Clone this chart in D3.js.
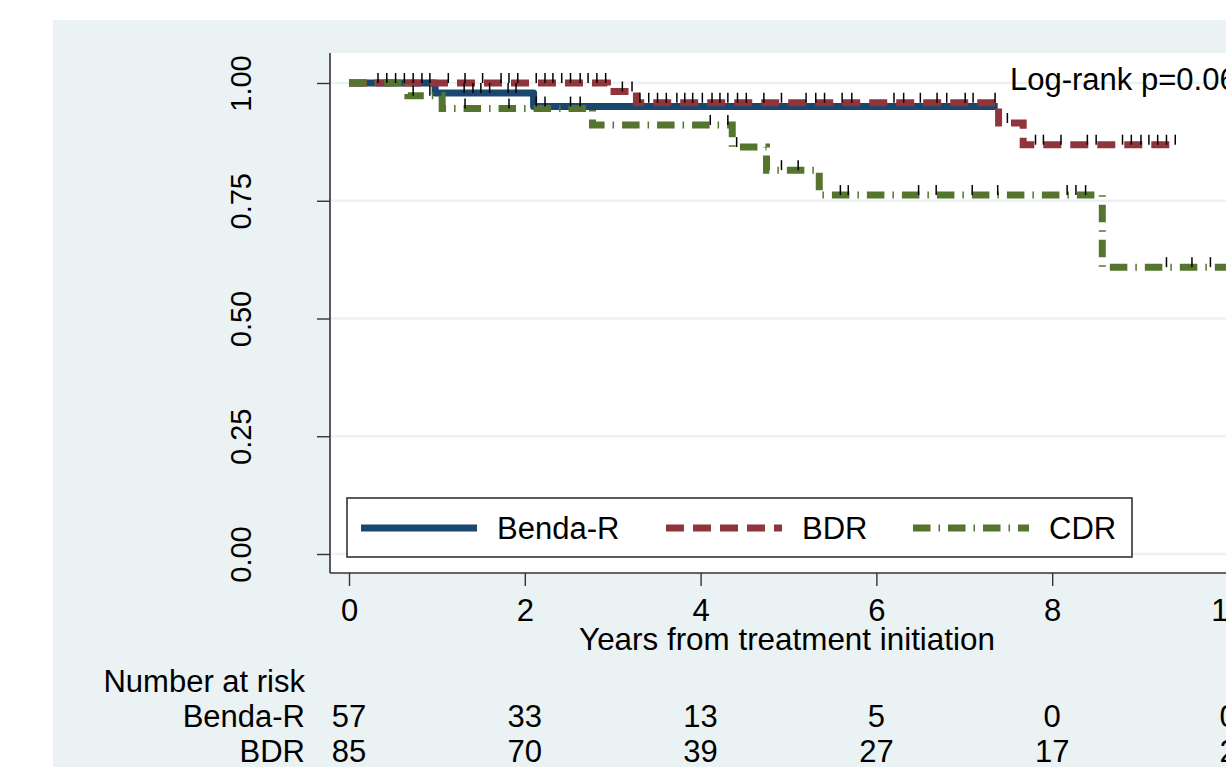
<!DOCTYPE html>
<html><head><meta charset="utf-8">
<script src="https://cdn.jsdelivr.net/npm/d3@7"></script>
<style>body{margin:0;background:#fff}svg{display:block}text{font-family:"Liberation Sans",Arial,sans-serif;fill:#000}</style>
</head><body>
<svg id="c" width="1226" height="767"></svg>
<script>
// ---- data ----
const groups = ["Benda-R", "BDR", "CDR"];
const xTicks = [0, 2, 4, 6, 8, 10];
const yTicks = [0, 0.25, 0.5, 0.75, 1];
const yTickLabels = ["0.00", "0.25", "0.50", "0.75", "1.00"];
// event steps: [time, survival after step]
const bendaSteps = [[0, 1], [0.98, 0.979], [2.10, 0.950]];
const bendaEnd = 7.38;
const bendaCens = [1.31, 1.41, 1.50, 1.60, 1.81, 1.90, 2.13, 2.23, 2.52, 2.63];
const bdrSteps = [[0, 1], [2.94, 0.982], [3.27, 0.958], [7.39, 0.915], [7.67, 0.869]];
const bdrEnd = 9.41;
const bdrCens = [0.33, 0.43, 0.53, 0.63, 0.73, 0.83, 0.92, 1.13, 1.32, 1.52, 1.73, 1.82, 1.92, 2.13, 2.23, 2.32, 2.42, 2.52, 2.63, 2.72, 2.82, 2.92,
  3.11, 3.22, 3.31, 3.41, 3.51, 3.61, 3.73, 3.82, 3.91, 4.02, 4.13, 4.22, 4.31, 4.42, 4.52, 4.72, 4.92, 5.20, 5.31, 5.41, 5.61, 5.72,
  6.20, 6.31, 6.50, 6.69, 6.80, 7.01, 7.10, 7.35, 7.49, 7.81, 7.90, 8.10, 8.40, 8.50, 8.80, 8.90, 9.01, 9.10, 9.20, 9.30, 9.40];
const cdrSteps = [[0, 1], [0.67, 0.973], [1.06, 0.946], [2.77, 0.911], [4.36, 0.864], [4.75, 0.815], [5.35, 0.762], [8.57, 0.609]];
const cdrEnd = 10.3;
const cdrCens = [0.73, 0.92, 1.32, 1.82, 4.11, 4.31, 4.41, 4.92, 5.11, 5.59, 5.68, 6.48, 6.68, 7.09, 7.38, 8.17, 8.27, 8.38, 9.30, 9.59, 9.80];
const riskGroups = ["Benda-R", "BDR"];
const riskBenda = [57, 33, 13, 5, 0, 0];
const riskBDR = [85, 70, 39, 27, 17, 2];
const logRankText = "Log-rank p=0.06";

// ---- drawing ----
const svg = d3.select("#c");
const FONT = 31;
const x = d3.scaleLinear().domain([0, 10]).range([349, 1228]);
const y = d3.scaleLinear().domain([0, 1]).range([554, 83]);
const colors = {"Benda-R": "#1a476f", "BDR": "#90353b", "CDR": "#55752f"};
const dashes = {"Benda-R": null, "BDR": "18,9", "CDR": "17.5,8,1.5,8"};

svg.append("rect").attr("width", 1226).attr("height", 767).attr("fill", "#fff");
svg.append("rect").attr("x", 53).attr("y", 20).attr("width", 1300).attr("height", 800).attr("fill", "#eaf2f3");
svg.append("rect").attr("x", 330).attr("y", 53).attr("width", 1000).attr("height", 520).attr("fill", "#fff");

// grid
svg.append("g").selectAll("line").data(yTicks).join("line")
  .attr("x1", 331).attr("x2", 1330).attr("y1", d => y(d)).attr("y2", d => y(d))
  .attr("stroke", "#eaf2f3").attr("stroke-width", 2.5);

// axes
const yAxis = d3.axisLeft(y).tickValues(yTicks).tickSize(13).tickFormat((d, i) => yTickLabels[i]);
const yg = svg.append("g").attr("transform", "translate(330,0)").call(yAxis);
yg.select(".domain").attr("d", "M0,53V573").attr("stroke", "#333").attr("stroke-width", 1.6);
yg.selectAll(".tick line").attr("stroke", "#333").attr("stroke-width", 1.4);
yg.selectAll(".tick text").attr("font-size", 29).attr("x", 0).attr("dy", 0)
  .attr("text-anchor", "middle").attr("transform", "translate(-79,0) rotate(-90)");

const xAxis = d3.axisBottom(x).tickValues(xTicks).tickSize(13).tickFormat(d3.format("d"));
const xg = svg.append("g").attr("transform", "translate(0,573)").call(xAxis);
xg.select(".domain").attr("d", "M330,0H1330").attr("stroke", "#333").attr("stroke-width", 1.6);
xg.selectAll(".tick line").attr("stroke", "#333").attr("stroke-width", 1.4);
xg.selectAll(".tick text").attr("font-size", FONT).attr("y", 48).attr("dy", 0);
svg.selectAll(".tick text").attr("font-family", "Liberation Sans, Arial, sans-serif").attr("fill", "#000");

svg.append("text").attr("x", 787).attr("y", 650).attr("text-anchor", "middle").attr("font-size", 31.4)
  .text("Years from treatment initiation");

// curves
const series = [
  {name: "Benda-R", steps: bendaSteps, end: bendaEnd, cens: bendaCens},
  {name: "BDR", steps: bdrSteps, end: bdrEnd, cens: bdrCens},
  {name: "CDR", steps: cdrSteps, end: cdrEnd, cens: cdrCens}
];
const line = d3.line().x(d => x(d[0])).y(d => y(d[1])).curve(d3.curveStepAfter);
function survAt(steps, t) {
  let s = 1;
  for (const st of steps) if (st[0] <= t) s = st[1];
  return s;
}
series.forEach(sr => {
  const pts = sr.steps.concat([[sr.end, sr.steps[sr.steps.length - 1][1]]]);
  svg.append("path").attr("d", line(pts)).attr("fill", "none")
    .attr("stroke", colors[sr.name]).attr("stroke-width", 7)
    .attr("stroke-linejoin", sr.name === "Benda-R" ? "round" : "miter")
    .attr("stroke-dasharray", dashes[sr.name]);
});
series.forEach(sr => {
  svg.append("g").selectAll("line").data(sr.cens).join("line")
    .attr("x1", d => x(d)).attr("x2", d => x(d))
    .attr("y1", d => y(survAt(sr.steps, d)) - 10).attr("y2", d => y(survAt(sr.steps, d)))
    .attr("stroke", "#000").attr("stroke-width", 1.5);
});

svg.append("text").attr("x", 1010).attr("y", 90).attr("font-size", FONT).text(logRankText);

// legend
const lg = svg.append("g");
lg.append("rect").attr("x", 347).attr("y", 498).attr("width", 785).attr("height", 59)
  .attr("fill", "#fff").attr("stroke", "#333").attr("stroke-width", 1.6);
const legX = [361, 666, 913];
groups.forEach((g, i) => {
  lg.append("line").attr("x1", legX[i]).attr("x2", legX[i] + 116).attr("y1", 528).attr("y2", 528)
    .attr("stroke", colors[g]).attr("stroke-width", 7).attr("stroke-dasharray", dashes[g]);
  lg.append("text").attr("x", legX[i] + 136).attr("y", 539).attr("font-size", FONT).text(g);
});

// number at risk
svg.append("text").attr("x", 305).attr("y", 692).attr("text-anchor", "end").attr("font-size", FONT).text("Number at risk");
const riskRows = [riskBenda, riskBDR];
const rowY = [727, 762];
riskGroups.forEach((g, i) => {
  svg.append("text").attr("x", 305).attr("y", rowY[i]).attr("text-anchor", "end").attr("font-size", FONT).text(g);
  svg.append("g").selectAll("text").data(riskRows[i]).join("text")
    .attr("x", (d, j) => x(xTicks[j])).attr("y", rowY[i]).attr("text-anchor", "middle")
    .attr("font-size", FONT).text(d => d);
});
</script>
</body></html>
